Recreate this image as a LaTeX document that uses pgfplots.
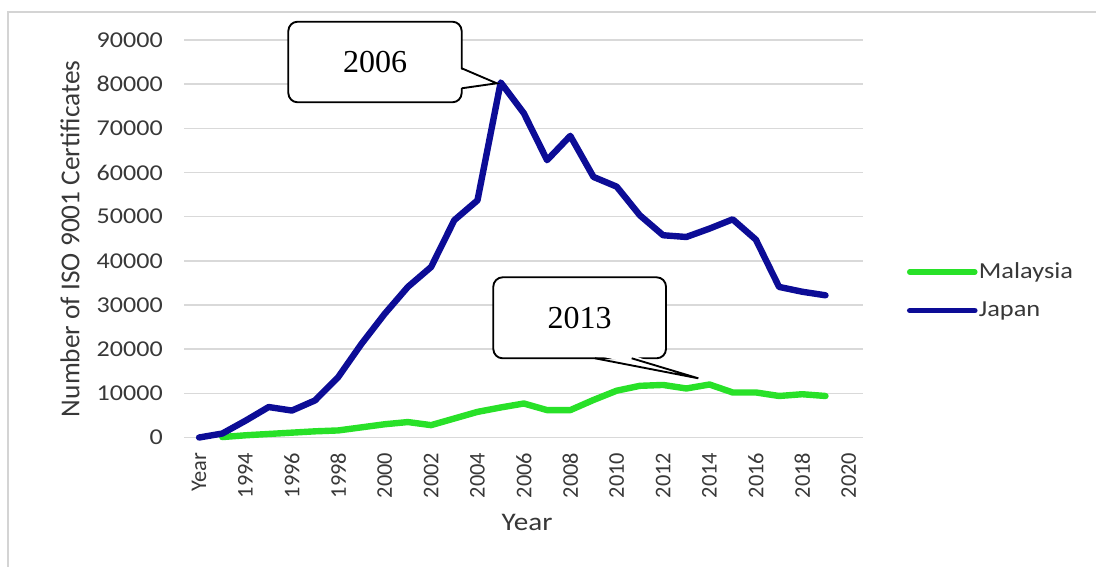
\documentclass[border=0pt]{standalone}
\usepackage{pgfplots}
\usepackage{pgfplotstable}
\pgfplotsset{compat=1.18}
\usepackage{fontspec}
\setmainfont{Carlito}[FakeStretch=1.15]
\newfontfamily\rotfont{Carlito}
\newfontfamily\callfont{Liberation Serif}

\definecolor{japan}{RGB}{12,12,150}
\definecolor{malaysia}{RGB}{40,225,40}
\definecolor{gridgray}{RGB}{217,217,217}
\definecolor{textgray}{RGB}{56,56,56}
\definecolor{framegray}{RGB}{212,212,212}

% ISO 9001 certificates; idx 0 is the "Year" header slot, idx 1 = 1993, ...
\pgfplotstableread{
idx value
0 0
1 900
2 3800
3 6900
4 6100
5 8400
6 13700
7 21200
8 28000
9 34100
10 38600
11 49200
12 53700
13 80400
14 73400
15 62800
16 68300
17 59000
18 56800
19 50300
20 45800
21 45400
22 47300
23 49400
24 44800
25 34100
26 33000
27 32200
}\japandata

\pgfplotstableread{
idx value
1 100
2 500
3 800
4 1100
5 1400
6 1600
7 2300
8 3000
9 3500
10 2800
11 4300
12 5800
13 6800
14 7700
15 6200
16 6200
17 8500
18 10600
19 11700
20 11900
21 11100
22 12000
23 10200
24 10200
25 9400
26 9800
27 9400
}\malaysiadata

\begin{document}
\begin{tikzpicture}
\useasboundingbox (0,0) rectangle (822pt,-425.25pt);
\draw[framegray, line width=1.1pt] (6pt,-425.25pt) -- (6pt,-9pt) -- (822pt,-9pt);
\begin{axis}[
  at={(138pt,-328.125pt)}, anchor=south west,
  scale only axis, width=508.95pt, height=298.125pt,
  xmin=-0.65, xmax=28.6, ymin=0, ymax=90000,
  clip=false,
  axis line style={draw=none},
  major tick length=0pt,
  scaled y ticks=false,
  ymajorgrids, grid style={draw=gridgray, line width=1.1pt},
  ytick={0,10000,20000,30000,40000,50000,60000,70000,80000,90000},
  yticklabels={0,10000,20000,30000,40000,50000,60000,70000,80000,90000},
  yticklabel style={font=\fontsize{17}{19}\selectfont, text=textgray, anchor=east, inner sep=0pt},
  yticklabel shift=15.75pt,
  xtick={0,2,4,6,8,10,12,14,16,18,20,22,24,26,28},
  xticklabels={Year,1994,1996,1998,2000,2002,2004,2006,2008,2010,2012,2014,2016,2018,2020},
  xticklabel style={rotate=90, anchor=east, inner sep=0pt, font=\rotfont\fontsize{16.8}{19}\selectfont, text=textgray},
  xticklabel shift=11.2pt,
  xlabel={Year},
  ylabel={Number of ISO 9001 Certificates},
  every axis x label/.style={at={(axis description cs:0.5055,-0.215)}, anchor=center, font=\fontsize{19}{22}\selectfont, text=textgray},
  every axis y label/.style={at={(axis description cs:-0.168,0.5)}, rotate=90, anchor=center, font=\rotfont\fontsize{20.5}{24}\selectfont, text=textgray},
  legend style={at={(axis description cs:1.0654,0.3686)}, anchor=west, draw=none, fill=none,
    inner sep=0pt, outer sep=0pt, row sep=14pt, nodes={inner sep=1pt},
    font=\fontsize{17.2}{19}\selectfont, text=textgray,
    /tikz/every even column/.append style={column sep=3pt}},
  legend cell align=left,
  legend image code/.code={\draw[#1, line width=4.2pt, line cap=round] (0pt,0pt) -- (48.75pt,0pt);},
]
\addplot[malaysia, line width=4.8pt, line join=round, line cap=round] table[x=idx, y=value] {\malaysiadata};
\addlegendentry{Malaysia}
\addplot[japan, line width=4.8pt, line join=round, line cap=round] table[x=idx, y=value] {\japandata};
\addlegendentry{Japan}
\coordinate (tipA) at (axis cs:12.83,80200);
\coordinate (tipB) at (axis cs:21.52,13400);
\end{axis}
% callouts
\begin{scope}[x=0.75pt, y=-0.75pt, line width=1.4pt]
  \draw[fill=white, rounded corners=7pt] (288.3,21.7) rectangle (461.7,102.3);
  \fill[white] (458.5,68.3) -- (tipA) -- (458.5,88.3) -- cycle;
  \draw[line join=miter] (461.7,68.3) -- (tipA) -- (461.7,88.3);
  \node[font=\callfont\fontsize{24}{28}\selectfont] at (375,62) {2006};
  \draw[fill=white, rounded corners=7pt] (493.3,277.3) rectangle (666,358.3);
  \fill[white] (595,355) -- (tipB) -- (631.7,355) -- cycle;
  \draw[line join=miter] (595,358.3) -- (tipB) -- (631.7,358.3);
  \node[font=\callfont\fontsize{24}{28}\selectfont] at (579.7,317.8) {2013};
\end{scope}
\end{tikzpicture}
\end{document}
